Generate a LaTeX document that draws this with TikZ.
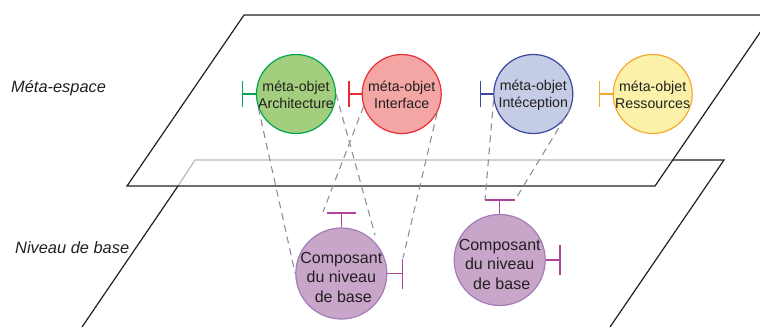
\documentclass[tikz,border=0pt]{standalone}
\usepackage{fontspec}
\setmainfont{Liberation Sans}
\definecolor{ink}{HTML}{231F20}
\definecolor{planegray}{HTML}{B4BBC8}
\definecolor{dashgray}{HTML}{8C9198}
\definecolor{barpurple}{HTML}{B0449F}
\definecolor{cgreen}{HTML}{00A650}\definecolor{fgreen}{HTML}{A3CE7D}
\definecolor{cred}{HTML}{ED2B35}\definecolor{fred}{HTML}{F3A6A4}
\definecolor{cblue}{HTML}{3A47A0}\definecolor{fblue}{HTML}{C5CDE6}
\definecolor{cyellow}{HTML}{F7A833}\definecolor{fyellow}{HTML}{FBF1A9}
\definecolor{cpurple}{HTML}{A27DB8}\definecolor{fpurple}{HTML}{C8A6CA}
\tikzset{
  metaobj/.style={circle,draw=#1,line width=1.2pt,minimum size=79pt,inner sep=0pt},
  baseobj/.style={circle,draw=cpurple,fill=fpurple,line width=1.2pt,minimum size=91pt,inner sep=0pt},
  metatext/.style={text=ink,align=center,font=\fontsize{14.2}{16.5}\selectfont,inner sep=0pt},
  basetext/.style={text=ink,align=center,font=\fontsize{16}{19.5}\selectfont,inner sep=0pt},
  sidelabel/.style={text=ink,anchor=west,inner sep=0pt,font=\fontsize{16.4}{19}\selectfont\itshape},
  plane/.style={draw=ink,line width=1.2pt},
  planehidden/.style={draw=planegray,line width=1.2pt},
  link/.style={draw=dashgray,line width=1.1pt,dash pattern=on 7pt off 5pt},
  port/.style={line width=1.3pt}
}
\begin{document}
\begin{tikzpicture}[x=1pt,y=-1pt]
\useasboundingbox (0,0) rectangle (760,327);
\clip (0,0) rectangle (760,327);
% plane corners
\coordinate (mTL) at (244,15);
\coordinate (mTR) at (772,15);
\coordinate (mBR) at (655,186);
\coordinate (mBL) at (127,186);
\coordinate (bTL) at (195,160);
\coordinate (bX) at (178,186);
\coordinate (bY) at (672.5,160);
\coordinate (bTR) at (724,160);
\coordinate (bBL) at (82,327);
\coordinate (bBR) at (610,327);
% lower plane
\draw[plane] (bX) -- (bBL);
\draw[plane] (bY) -- (bTR) -- (bBR);
\draw[planehidden] (bX) -- (bTL) -- (bY);
% upper plane
\draw[plane] (mTR) -- (mTL) -- (mBL) -- (mBR) -- (mTR);
% labels
\node[sidelabel] (lm) at (11,88) {Méta-espace};
\node[sidelabel] (lb) at (15,248) {Niveau de base};
% meta-objects
\node[metaobj=cgreen,fill=fgreen] (g) at (296,94) {};
\node[metaobj=cred,fill=fred] (r) at (401.7,94) {};
\node[metaobj=cblue,fill=fblue] (u) at (533.3,94) {};
\node[metaobj=cyellow,fill=fyellow] (y) at (652.7,94) {};
\node[metatext] (gt) at (296,95) {méta-objet\\Architecture};
\node[metatext] (rt) at (401.7,95) {méta-objet\\Interface};
\node[metatext] (ut) at (533.3,95) {méta-objet\\Intéception};
\node[metatext] (yt) at (652.7,95) {méta-objet\\Ressources};
% base components
\node[baseobj] (c) at (341.3,273.5) {};
\node[baseobj] (d) at (499.7,260) {};
\node[basetext] (ct) at (341.3,277) {Composant\\du niveau\\\hspace*{4pt}de base};
\node[basetext] (dt) at (499.7,264) {Composant\\du niveau\\\hspace*{4pt}de base};
% port coordinates of components
\coordinate (cta) at (326.7,213); \coordinate (ctm) at (341.3,213); \coordinate (ctb) at (356,213);
\coordinate (cra) at (402.5,258.5); \coordinate (crm) at (402.5,273.5); \coordinate (crb) at (402.5,288.5);
\coordinate (dta) at (485,200); \coordinate (dtm) at (499.7,200); \coordinate (dtb) at (515,200);
\coordinate (dra) at (560,245); \coordinate (drm) at (560,260); \coordinate (drb) at (560,275);
% dashed links
\coordinate (c1) at (375,235);
\coordinate (c2) at (323,212);
\coordinate (c3) at (403,258);
\draw[link] (g.200) -- (c.180);
\draw[link] (g.east) -- (c1);
\draw[link] (r.198) -- (c2);
\draw[link] (r.-28) -- (c3);
\draw[link] (u.188) -- (dta);
\draw[link] (u.-20) -- (dtb);
% ports of meta-objects
\coordinate (gb) at (242.7,94); \coordinate (gb1) at (242.7,81); \coordinate (gb2) at (242.7,107);
\coordinate (rb) at (349,94); \coordinate (rb1) at (349,81); \coordinate (rb2) at (349,107);
\coordinate (ub) at (480.7,94); \coordinate (ub1) at (480.7,81); \coordinate (ub2) at (480.7,107);
\coordinate (yb) at (599.7,94); \coordinate (yb1) at (599.7,81); \coordinate (yb2) at (599.7,107);
\draw[port,cgreen] (gb1) -- (gb2) (gb) -- (g.west);
\draw[port,cred] (rb1) -- (rb2) (rb) -- (r.west);
\draw[port,cblue] (ub1) -- (ub2) (ub) -- (u.west);
\draw[port,cyellow] (yb1) -- (yb2) (yb) -- (y.west);
% ports of components
\draw[port,barpurple] (cta) -- (ctb) (ctm) -- (c.north);
\draw[port,barpurple] (cra) -- (crb) (crm) -- (c.east);
\draw[port,barpurple] (dta) -- (dtb) (dtm) -- (d.north);
\draw[port,barpurple] (dra) -- (drb) (drm) -- (d.east);
\end{tikzpicture}
\end{document}
